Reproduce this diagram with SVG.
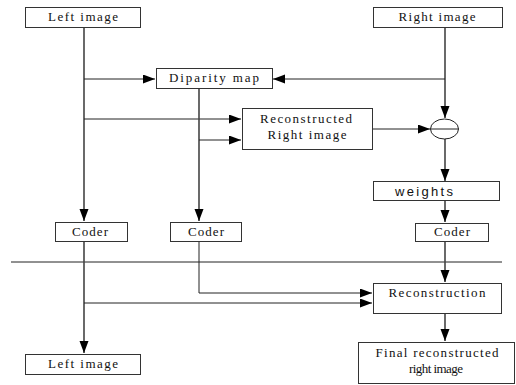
<svg xmlns="http://www.w3.org/2000/svg" width="516" height="385" viewBox="0 0 516 385">
<style>
.box{fill:#fff;stroke:#333;stroke-width:1}
.t{font-family:"Liberation Serif","Times New Roman",serif;font-size:13px;fill:#111;text-anchor:middle}
.s{font-family:"Liberation Sans","DejaVu Sans",sans-serif;font-size:13px;fill:#111;text-anchor:middle}
.ln{fill:none;stroke:#222;stroke-width:1}
.vm{fill:none;stroke:#444;stroke-width:1.6}
</style>
<defs>
<marker id="ah" markerUnits="userSpaceOnUse" markerWidth="13" markerHeight="10" refX="12" refY="4.5" orient="auto">
<path d="M0,0 L12,4.5 L0,9 z" fill="#000"/>
</marker>
</defs>
<rect width="516" height="385" fill="#fff"/>
<g id="connectors">
<path class="vm" d="M84,27 V221" marker-end="url(#ah)"/>
<path class="ln" d="M84,79 H155" marker-end="url(#ah)"/>
<path class="ln" d="M84,119 H241" marker-end="url(#ah)"/>
<path class="vm" d="M199,88 V221" marker-end="url(#ah)"/>
<path class="ln" d="M199,140 H241" marker-end="url(#ah)"/>
<path class="vm" d="M445,27 V118" marker-end="url(#ah)"/>
<path class="ln" d="M445,79 H273" marker-end="url(#ah)"/>
<path class="ln" d="M372,129 H430" marker-end="url(#ah)"/>
<path class="vm" d="M445,139 V181" marker-end="url(#ah)"/>
<path class="vm" d="M445,200 V222" marker-end="url(#ah)"/>
<path class="ln" d="M11,262 H502"/>
<path class="vm" d="M84,241 V353" marker-end="url(#ah)"/>
<path class="ln" d="M84,303 H372" marker-end="url(#ah)"/>
<path class="ln" d="M199,241 V293 H372" marker-end="url(#ah)"/>
<path class="vm" d="M445,241 V282" marker-end="url(#ah)"/>
<path class="vm" d="M445,313 V341" marker-end="url(#ah)"/>
</g>
<g id="left-image">
<rect class="box" x="25.5" y="7.5" width="115" height="20"/>
<text class="t" x="83" y="21" textLength="70" lengthAdjust="spacing">Left image</text>
</g>
<g id="right-image">
<rect class="box" x="373.5" y="7.5" width="129" height="20"/>
<text class="t" x="437" y="21" textLength="77" lengthAdjust="spacing">Right image</text>
</g>
<g id="disparity-map">
<rect class="box" x="156.5" y="68.5" width="116" height="20"/>
<text class="t" x="214" y="82" textLength="90" lengthAdjust="spacing">Diparity map</text>
</g>
<g id="reconstructed-right">
<rect class="box" x="242.5" y="108.5" width="130" height="41"/>
<text class="t" x="306" y="123" textLength="92" lengthAdjust="spacing">Reconstructed</text>
<text class="t" x="307" y="139" textLength="79" lengthAdjust="spacing">Right image</text>
</g>
<g id="subtract">
<ellipse cx="444.5" cy="129" rx="14" ry="10" fill="#fff" stroke="#222" stroke-width="1"/>
<path class="ln" d="M430.5,129 H458.5"/>
</g>
<g id="weights">
<rect class="box" x="373.5" y="181.5" width="126" height="19"/>
<text class="s" x="424" y="196" textLength="58" lengthAdjust="spacing">weights</text>
</g>
<g id="coder-left">
<rect class="box" x="55.5" y="222.5" width="72" height="19"/>
<text class="t" x="90" y="236" textLength="36" lengthAdjust="spacing">Coder</text>
</g>
<g id="coder-mid">
<rect class="box" x="170.5" y="222.5" width="71" height="19"/>
<text class="t" x="206" y="236" textLength="36" lengthAdjust="spacing">Coder</text>
</g>
<g id="coder-right">
<rect class="box" x="415.5" y="223.5" width="73" height="18"/>
<text class="t" x="452" y="236" textLength="36" lengthAdjust="spacing">Coder</text>
</g>
<g id="reconstruction">
<rect class="box" x="373.5" y="283.5" width="128" height="30"/>
<text class="t" x="437" y="297" textLength="97" lengthAdjust="spacing">Reconstruction</text>
</g>
<g id="left-image-out">
<rect class="box" x="25.5" y="354.5" width="115" height="20"/>
<text class="t" x="83" y="368" textLength="70" lengthAdjust="spacing">Left image</text>
</g>
<g id="final">
<rect class="box" x="358.5" y="342.5" width="156" height="41"/>
<text class="t" x="437" y="357" textLength="123" lengthAdjust="spacing">Final reconstructed</text>
<text class="t" x="436" y="373" textLength="54" lengthAdjust="spacing">right image</text>
</g>
</svg>
